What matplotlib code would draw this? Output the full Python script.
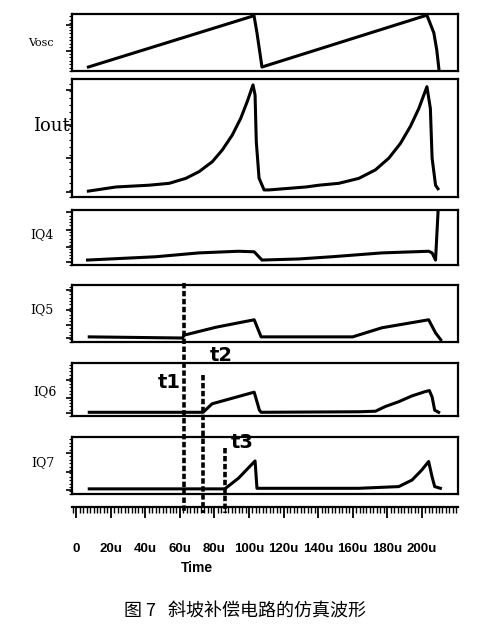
import matplotlib
matplotlib.use("Agg")
import matplotlib.pyplot as plt
from matplotlib.lines import Line2D
from matplotlib.transforms import blended_transform_factory
from matplotlib.ticker import MultipleLocator, FixedLocator

# --- DATA (time in us, values as fraction of each panel's height) ---
vosc_t = [7, 102.9, 104.6, 107.5, 203, 207, 208.7, 210]
vosc_v = [0.07, 0.97, 0.67, 0.07, 0.98, 0.67, 0.37, 0.02]

iout_t = [7, 23, 42.2, 53.8, 63.4, 71.1, 78.8, 84.6, 90.3, 95.2, 99, 102.3,
          103.5, 104.2, 105.8, 108.7, 111.6, 133, 140.5, 152, 163.6, 173.2,
          181, 187.7, 193.5, 198.3, 203, 205, 206, 208, 209.4]
iout_v = [0.05, 0.085, 0.10, 0.116, 0.158, 0.215, 0.30, 0.40, 0.525, 0.667, 0.81, 0.95,
          0.864, 0.47, 0.16, 0.06, 0.06, 0.085, 0.10, 0.116, 0.158, 0.23,
          0.33, 0.455, 0.60, 0.75, 0.935, 0.75, 0.33, 0.10, 0.07]

iq4_t = [6.5, 46, 71, 94, 103, 107.5, 129, 148, 177, 204, 206, 208, 209.5]
iq4_v = [0.09, 0.15, 0.22, 0.25, 0.24, 0.09, 0.11, 0.15, 0.22, 0.25, 0.22, 0.09, 1.0]

iq5_t = [7.5, 61.5, 62.4, 81, 103, 107, 160, 177, 204, 208, 211]
iq5_v = [0.09, 0.07, 0.12, 0.26, 0.39, 0.09, 0.09, 0.25, 0.39, 0.16, 0.04]

iq6_t = [7.5, 73.4, 78.6, 103, 106, 107, 163.6, 173.2, 179, 186.7, 194.4, 202,
         204.4, 206, 207.5, 209.8]
iq6_v = [0.07, 0.07, 0.23, 0.45, 0.11, 0.07, 0.08, 0.09, 0.18, 0.27, 0.38, 0.46,
         0.48, 0.36, 0.11, 0.07]

iq7_t = [7.5, 86, 94, 103.5, 104.6, 163.6, 186.7, 194.4, 200, 204, 206, 207.5, 210.8]
iq7_v = [0.09, 0.09, 0.28, 0.58, 0.10, 0.10, 0.13, 0.245, 0.42, 0.57, 0.30, 0.13, 0.10]

panel_labels = ["Vosc", "Iout", "IQ4", "IQ5", "IQ6", "IQ7"]
marker_times = [62.4, 73.4, 86]
marker_names = ["t1", "t2", "t3"]
tick_vals = [0, 20, 40, 60, 80, 100, 120, 140, 160, 180, 200]
tick_names = ["0", "20u", "40u", "60u", "80u", "100u", "120u", "140u", "160u", "180u", "200u"]
caption = "图 7   斜坡补偿电路的仿真波形"

W, H = 495, 631
fig = plt.figure(figsize=(W / 100, H / 100), dpi=100)

def fy(py):
    return 1 - py / H

left, width = 72 / W, 386 / W
XLIM = (-2.5, 221)

# (top px, bottom px, y major ticks, t, v, label x px, label y px, label size)
panels = [
    (14, 71, [0.35, 0.81], vosc_t, vosc_v, 41, 43, 8),
    (79, 197, [0.04, 0.33, 0.61, 0.91], iout_t, iout_v, 51, 126, 13),
    (210, 265, [0.05, 0.33, 0.64, 0.96], iq4_t, iq4_v, 42, 235, 9),
    (285, 342, [0.07, 0.30, 0.56, 0.91], iq5_t, iq5_v, 42, 310, 9),
    (363, 416, [0.06, 0.34, 0.68], iq6_t, iq6_v, 45, 392, 9),
    (437, 494, [0.07, 0.39, 0.72], iq7_t, iq7_v, 43, 463, 9),
]

for (top, bot, yt, t, v, lx, ly, ls), name in zip(panels, panel_labels):
    ax = fig.add_axes([left, fy(bot), width, (bot - top) / H])
    ax.plot(t, v, color="black", lw=2.2, solid_joinstyle="round")
    ax.set_xlim(*XLIM)
    ax.set_ylim(0, 1)
    ax.set_xticks([])
    ax.yaxis.set_major_locator(FixedLocator(yt))
    ax.yaxis.set_minor_locator(MultipleLocator(0.06))
    ax.tick_params(axis="y", which="major", direction="out", length=4, width=1.2, labelleft=False)
    ax.tick_params(axis="y", which="minor", direction="out", length=2, width=0.8)
    for s in ax.spines.values():
        s.set_linewidth(1.6)
    fig.text(lx / W, fy(ly), name, ha="center", va="center",
             fontsize=ls, family="DejaVu Serif")

# time ruler
rul = fig.add_axes([left, fy(518), width, 11 / H])
rul.set_xlim(*XLIM)
rul.set_yticks([])
for k in ["left", "right", "bottom"]:
    rul.spines[k].set_visible(False)
rul.spines["top"].set_linewidth(1.6)
rul.set_xticks(tick_vals)
rul.set_xticklabels(tick_names, fontsize=9.5, fontweight="bold", family="Liberation Sans")
rul.xaxis.set_minor_locator(MultipleLocator(2))
rul.tick_params(axis="x", which="both", top=True, bottom=False, labelbottom=True,
                direction="in", pad=18)
rul.tick_params(axis="x", which="major", length=8, width=1.3)
rul.tick_params(axis="x", which="minor", length=4, width=1.0)
fig.text(197 / W, fy(568), "Time", ha="center", va="center", fontsize=10,
         fontweight="bold", family="Liberation Sans")

# dashed markers t1, t2, t3
tr = blended_transform_factory(rul.transData, fig.transFigure)
marker_tops = [283, 375, 448]
for tm, top in zip(marker_times, marker_tops):
    fig.add_artist(Line2D([tm, tm], [fy(top), fy(513)], transform=tr,
                          color="black", lw=2.6, linestyle=(0, (1.5, 0.7))))
label_pos = [(53.8, 383), (84, 356), (96, 443)]
for (tx, ty), nm in zip(label_pos, marker_names):
    fig.text(tx, fy(ty), nm, transform=tr, ha="center", va="center",
             fontsize=14, fontweight="bold", family="DejaVu Sans")

fig.text(245 / W, fy(612), caption, ha="center", va="center", fontsize=13,
         family=["Noto Sans CJK SC", "DejaVu Sans"])

fig.savefig("out.png", dpi=100)
